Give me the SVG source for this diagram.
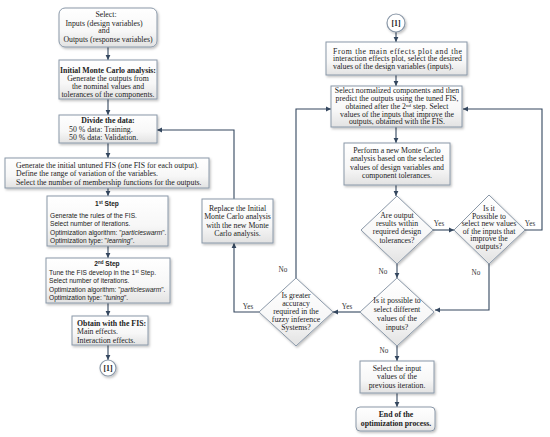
<svg xmlns="http://www.w3.org/2000/svg" width="550" height="437" viewBox="0 0 550 437">
<defs>
<linearGradient id="g" x1="0" y1="0" x2="0" y2="1">
<stop offset="0" stop-color="#ffffff"/>
<stop offset="0.6" stop-color="#f7f7f7"/>
<stop offset="1" stop-color="#e2e2e2"/>
</linearGradient>
<filter id="sh" x="-10%" y="-10%" width="130%" height="140%">
<feDropShadow dx="1.2" dy="1.5" stdDeviation="1" flood-color="#000" flood-opacity="0.25"/>
</filter>
<marker id="ah" markerWidth="6" markerHeight="6" refX="5" refY="3" orient="auto" markerUnits="userSpaceOnUse">
<path d="M0,0.6 L5,3 L0,5.4 Z" fill="#34475f"/>
</marker>
</defs>
<style>
.b{fill:url(#g);stroke:#8a98a8;stroke-width:1;filter:url(#sh)}
.c{fill:#fff;stroke:#8a98a8;stroke-width:1.2;filter:url(#sh)}
.t{font-family:"Liberation Serif","Times New Roman",serif;font-size:7.8px;fill:#222}
.s{font-family:"Liberation Sans",Arial,sans-serif;font-size:6.6px;fill:#222}
.m{text-anchor:middle}
.bd{font-weight:bold}
.l{fill:none;stroke:#34475f;stroke-width:1.1}
.a{marker-end:url(#ah)}
.lb{font-family:"Liberation Serif","Times New Roman",serif;font-size:7.2px;fill:#333;text-anchor:middle}
</style>

<g id="connectors">
<path class="l a" d="M108,47 V60"/>
<path class="l a" d="M108,99 V115"/>
<path class="l a" d="M108,143 V158"/>
<path class="l a" d="M108,188 V196"/>
<path class="l a" d="M108,246 V258"/>
<path class="l a" d="M108,303 V316"/>
<path class="l a" d="M108,345 V360"/>
<path class="l a" d="M396,32 V42"/>
<path class="l a" d="M396,75 V86"/>
<path class="l a" d="M396,127 V143"/>
<path class="l a" d="M396,185 V196"/>
<path class="l a" d="M433,230 H454"/>
<path class="l a" d="M397,264 V278"/>
<path class="l a" d="M525,230 H542 V109 H463"/>
<path class="l a" d="M489,264 V310 H435"/>
<path class="l a" d="M360,312 H333"/>
<path class="l a" d="M397,346 V361"/>
<path class="l a" d="M397,393 V407"/>
<path class="l a" d="M296,278 V109 H331"/>
<path class="l a" d="M259,312 H234 V243"/>
<path class="l a" d="M234,199 V130 H157"/>
<text class="lb" x="439" y="226">Yes</text>
<text class="lb" x="383" y="274">No</text>
<text class="lb" x="530" y="226">Yes</text>
<text class="lb" x="476" y="275">No</text>
<text class="lb" x="347" y="309">Yes</text>
<text class="lb" x="384" y="353">No</text>
<text class="lb" x="283" y="272">No</text>
<text class="lb" x="248" y="309">Yes</text>
</g>

<g id="n-select">
<rect class="b" x="59" y="8" width="98" height="39" rx="6"/>
<text class="t m" x="106" y="17">Select:</text>
<text class="t m" x="104" y="25.5">Inputs (design variables)</text>
<text class="t m" x="104" y="33">and</text>
<text class="t m" x="108" y="41.5">Outputs (response variables)</text>
</g>

<g id="n-initial">
<rect class="b" x="59" y="60" width="98" height="39"/>
<text class="t m bd" x="108" y="73">Initial Monte Carlo analysis:</text>
<text class="t m" x="108" y="81">Generate the outputs from</text>
<text class="t m" x="108" y="89">the nominal values and</text>
<text class="t m" x="108" y="97">tolerances of the components.</text>
</g>

<g id="n-divide">
<rect class="b" x="59" y="115" width="98" height="28"/>
<text class="t m bd" x="108" y="123">Divide the data:</text>
<text class="t" x="69" y="131.5">50 % data:  Training.</text>
<text class="t" x="69" y="140">50 % data: Validation.</text>
</g>

<g id="n-generate">
<rect class="b" x="5" y="158" width="204" height="30"/>
<text class="t" x="16" y="168" font-size="7.7">Generate the initial untuned FIS (one FIS for each output).</text>
<text class="t" x="16" y="176" font-size="7.7">Define the range of variation of the variables.</text>
<text class="t" x="16" y="184.5" font-size="7.7">Select the number of membership functions for the outputs.</text>
</g>

<g id="n-step1">
<rect class="b" x="47" y="196" width="121" height="50"/>
<text class="s m bd" x="107" y="205.5">1<tspan font-size="4.5" baseline-shift="super">st</tspan> Step</text>
<text class="s" x="50" y="217.5">Generate the rules of the FIS.</text>
<text class="s" x="50" y="226">Select number of iterations.</text>
<text class="s" x="50" y="234.5">Optimization algorithm: "<tspan font-style="italic">particleswarm</tspan>".</text>
<text class="s" x="50" y="243">Optimization type: "<tspan font-style="italic">learning</tspan>".</text>
</g>

<g id="n-step2">
<rect class="b" x="46" y="258" width="124" height="45"/>
<text class="s m bd" x="107" y="266">2<tspan font-size="4.5" baseline-shift="super">nd</tspan> Step</text>
<text class="s" x="49" y="274.5">Tune the FIS develop in the 1<tspan font-size="4.5" baseline-shift="super">st</tspan> Step.</text>
<text class="s" x="49" y="283">Select number of iterations.</text>
<text class="s" x="49" y="291.5">Optimization algorithm: "<tspan font-style="italic">particleswarm</tspan>".</text>
<text class="s" x="49" y="300">Optimization type: "<tspan font-style="italic">tuning</tspan>".</text>
</g>

<g id="n-obtain">
<rect class="b" x="72" y="316" width="76" height="29"/>
<text class="t bd" x="77" y="325.5">Obtain with the FIS:</text>
<text class="t" x="77" y="334">Main effects.</text>
<text class="t" x="77" y="342.5">Interaction effects.</text>
</g>

<g id="n-c1left">
<circle class="c" cx="108" cy="368" r="8"/>
<text class="t m bd" x="108" y="370.5" font-size="7">[1]</text>
</g>

<g id="n-c1right">
<circle class="c" cx="396" cy="23" r="9"/>
<text class="t m bd" x="396" y="25.5" font-size="7">[1]</text>
</g>

<g id="n-replace">
<rect class="b" x="202" y="199" width="71" height="44"/>
<text class="t m" x="237.5" y="210.5">Replace the Initial</text>
<text class="t m" x="237.5" y="219">Monte Carlo analysis</text>
<text class="t m" x="237.5" y="227.5">with the new Monte</text>
<text class="t m" x="237.5" y="236">Carlo analysis.</text>
</g>

<g id="n-maineffects">
<rect class="b" x="326" y="42" width="141" height="33"/>
<text class="t" x="333" y="53.5" textLength="129" lengthAdjust="spacing">From the main effects plot and the</text>
<text class="t" x="333" y="61" textLength="129" lengthAdjust="spacing">interaction effects plot, select the desired</text>
<text class="t" x="333" y="68.5">values of the design variables (inputs).</text>
</g>

<g id="n-normalized">
<rect class="b" x="331" y="86" width="131" height="41"/>
<text class="t m" x="397" y="93">Select normalized components and then</text>
<text class="t m" x="397" y="100.5">predict the outputs using the tuned FIS,</text>
<text class="t m" x="397" y="108.5">obtained after the 2<tspan font-size="5" baseline-shift="super">nd</tspan> step. Select</text>
<text class="t m" x="397" y="116.5">values of the inputs that improve the</text>
<text class="t m" x="397" y="124">outputs, obtained with the FIS.</text>
</g>

<g id="n-perform">
<rect class="b" x="344" y="143" width="106" height="42"/>
<text class="t m" x="397" y="153">Perform a new Monte Carlo</text>
<text class="t m" x="397" y="161">analysis based on the selected</text>
<text class="t m" x="397" y="169.5">values of design variables and</text>
<text class="t m" x="397" y="178">component tolerances.</text>
</g>

<g id="n-d-tolerances">
<polygon class="b" points="397,196 433,230 397,264 361,230"/>
<text class="t m" x="397" y="217.5">Are output</text>
<text class="t m" x="397" y="225.5">results within</text>
<text class="t m" x="397" y="234">required design</text>
<text class="t m" x="397" y="242.5">tolerances?</text>
</g>

<g id="n-d-newvalues">
<polygon class="b" points="489,195 525,230 489,264 454,230"/>
<text class="t m" x="489" y="211">Is it</text>
<text class="t m" x="489" y="218.5">Possible to</text>
<text class="t m" x="489" y="226">select new values</text>
<text class="t m" x="489" y="233.5">of the inputs that</text>
<text class="t m" x="489" y="241">improve the</text>
<text class="t m" x="489" y="249">outputs?</text>
</g>

<g id="n-d-different">
<polygon class="b" points="397,278 434,312 397,346 360,312"/>
<text class="t m" x="397" y="303">Is it possible to</text>
<text class="t m" x="397" y="312">select different</text>
<text class="t m" x="397" y="321">values of the</text>
<text class="t m" x="397" y="330">inputs?</text>
</g>

<g id="n-d-accuracy">
<polygon class="b" points="296,278 333,312 296,346 259,312"/>
<text class="t m" x="296" y="297.5">Is greater</text>
<text class="t m" x="296" y="305.5">accuracy</text>
<text class="t m" x="296" y="313.5">required in the</text>
<text class="t m" x="296" y="321.5">fuzzy inference</text>
<text class="t m" x="296" y="329.5">Systems?</text>
</g>

<g id="n-previous">
<rect class="b" x="360" y="361" width="74" height="32"/>
<text class="t m" x="397" y="370.5">Select the input</text>
<text class="t m" x="397" y="379">values of the</text>
<text class="t m" x="397" y="387.5">previous iteration.</text>
</g>

<g id="n-end">
<rect class="b" x="356" y="407" width="79" height="24" rx="4"/>
<text class="t m bd" x="396" y="417">End of the</text>
<text class="t m bd" x="396" y="426">optimization process.</text>
</g>
</svg>
